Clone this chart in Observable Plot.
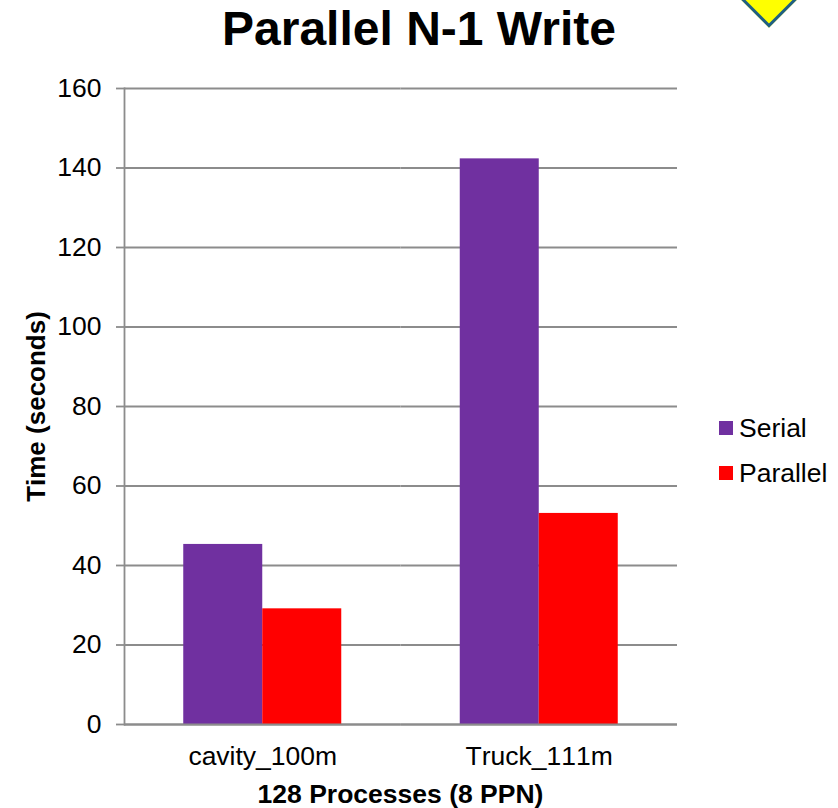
<!DOCTYPE html>
<html>
<head>
<meta charset="utf-8">
<script src="https://cdn.jsdelivr.net/npm/d3@7"></script>
<script src="https://cdn.jsdelivr.net/npm/@observablehq/plot@0.6"></script>
<style>
html,body{margin:0;padding:0;background:#fff;overflow:hidden;width:838px;height:808px}
#page{position:relative;width:838px;height:808px;overflow:hidden;font-family:"Liberation Sans",Arial,sans-serif}
#page svg{position:absolute;left:0;top:0;font-family:"Liberation Sans",Arial,sans-serif;font-kerning:none}
#title{position:absolute;left:0;width:838px;top:3px;text-align:center;font-size:48px;font-weight:bold;line-height:52px;color:#000}
#diamond{position:absolute;left:730.5px;top:-64px;width:76px;height:76px;background:#ff0;border:3px solid #1f5f85;box-sizing:border-box;transform:rotate(45deg)}
.lg{position:absolute;left:719px;font-size:26.5px;line-height:28px;color:#000;white-space:nowrap}
.lg i{position:absolute;left:0;top:7px;width:14px;height:14px}
.lg span{margin-left:20px}
</style>
</head>
<body>
<div id="page">
<div id="title"></div>
<div id="diamond"></div>
</div>
<script>
const titleText = "Parallel N-1 Write";
const categories = ["cavity_100m", "Truck_111m"];
const seriesNames = ["Serial", "Parallel"];
const seriesColors = ["#7030A0", "#FF0000"];
const serialValues = [45.3, 142.3];
const parallelValues = [29.1, 53.1];
const yTicks = [0, 20, 40, 60, 80, 100, 120, 140, 160];
const yLabel = "Time (seconds)";
const xLabel = "128 Processes (8 PPN)";
const axisGray = "#8c8c8c";

const rows = categories.flatMap((c, i) => [
  {category: c, series: seriesNames[0], value: serialValues[i]},
  {category: c, series: seriesNames[1], value: parallelValues[i]}
]);

const chart = Plot.plot({
  width: 838,
  height: 808,
  marginLeft: 124,
  marginRight: 161,
  marginTop: 88,
  marginBottom: 84,
  style: {background: "transparent", fontFamily: "'Liberation Sans', Arial, sans-serif", overflow: "visible"},
  fx: {domain: categories, padding: 0, label: null, round: false},
  x: {domain: seriesNames, paddingInner: 0, paddingOuter: 0.75, axis: null, round: false},
  y: {domain: [0, 160], label: null},
  color: {domain: seriesNames, range: seriesColors},
  marks: [
    Plot.ruleY(yTicks, {stroke: axisGray, strokeWidth: 1.8, strokeOpacity: 1}),
    Plot.barY(rows, {fx: "category", x: "series", y: "value", fill: "series"}),
    Plot.ruleY([0], {stroke: axisGray, strokeWidth: 1.8, strokeOpacity: 1}),
    Plot.frame({anchor: "left", facetAnchor: "left", stroke: axisGray, strokeWidth: 1.8, strokeOpacity: 1}),
    Plot.axisY({
      ticks: yTicks, tickSize: 8, tickPadding: 15, stroke: axisGray, strokeWidth: 1.8, strokeOpacity: 1,
      fontSize: 26.5, color: "#000", fill: "#000",
      label: yLabel, labelAnchor: "center", labelArrow: "none", labelOffset: 98
    }),
    Plot.axisFx({
      anchor: "bottom", tickSize: 0, tickPadding: 22, fontSize: 26.5, fill: "#000",
      label: null
    })
  ]
});
document.getElementById("page").appendChild(chart);
document.getElementById("title").textContent = titleText;

// Bold axis title styled from the axis text the library produced
chart.querySelectorAll("[aria-label='y-axis label'] text").forEach(t => {
  t.setAttribute("font-weight", "bold");
  t.setAttribute("font-size", "26");
});

// x-axis title and legend as real text
const page = document.getElementById("page");
const xl = document.createElement("div");
xl.textContent = xLabel;
xl.style.cssText = "position:absolute;left:124px;width:553px;top:780px;text-align:center;font-size:26.5px;font-weight:bold;line-height:28px;color:#000";
page.appendChild(xl);
seriesNames.forEach((s, i) => {
  const d = document.createElement("div");
  d.className = "lg";
  d.style.top = (414 + i * 45) + "px";
  d.innerHTML = `<i style="background:${seriesColors[i]}"></i><span>${s}</span>`;
  page.appendChild(d);
});
</script>
</body>
</html>
